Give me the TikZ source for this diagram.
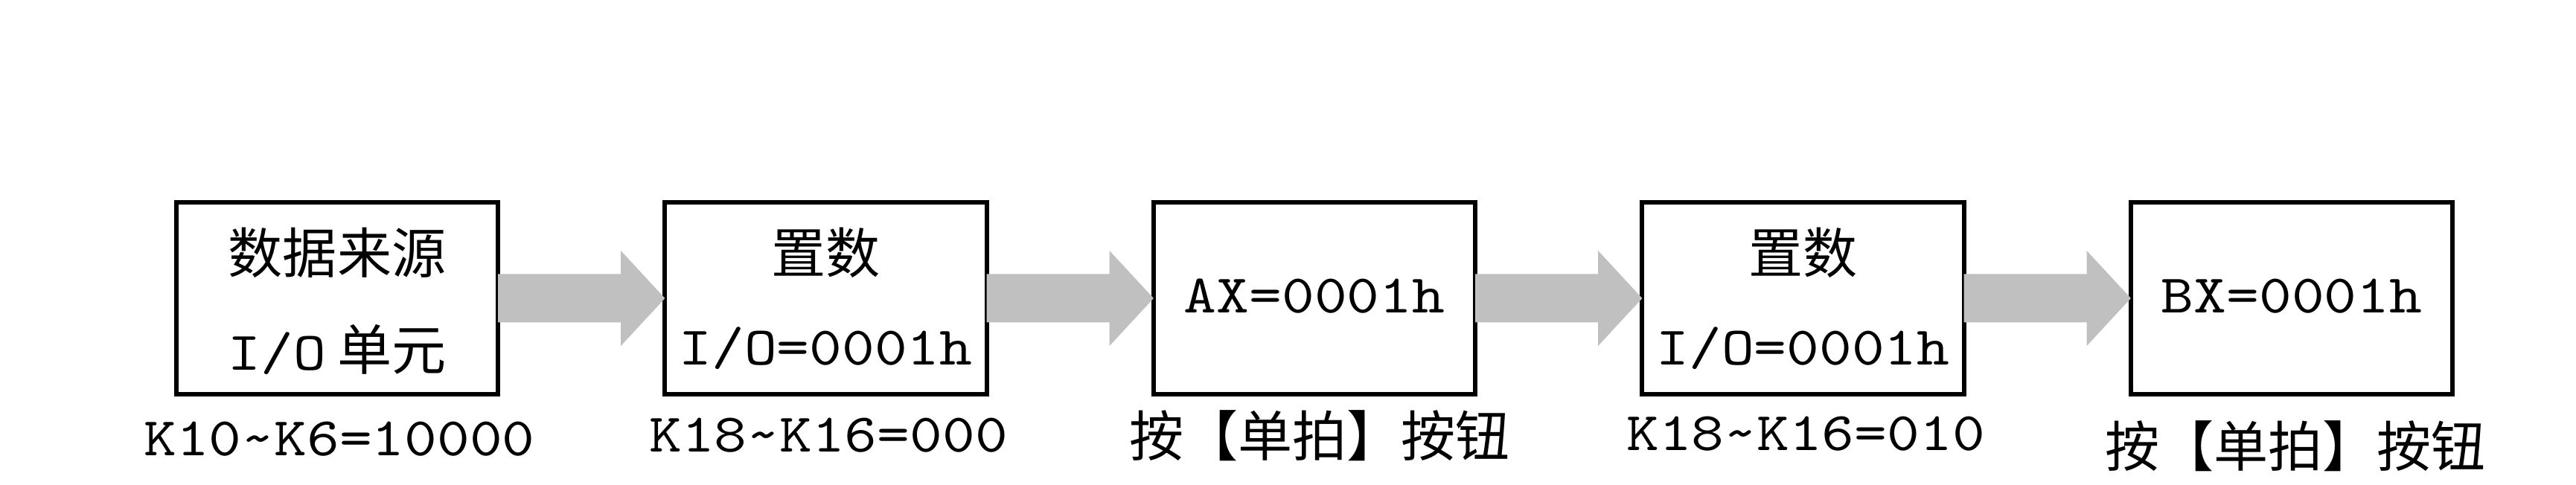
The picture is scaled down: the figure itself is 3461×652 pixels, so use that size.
\documentclass[tikz,border=0pt]{standalone}
\usepackage{fontspec}
\setmainfont{lmmono10-regular.otf}[FakeStretch=1.14]
\newfontfamily\cjk{Noto Sans CJK SC}
\usetikzlibrary{calc}
\definecolor{arrowgray}{RGB}{192,192,192}
\begin{document}
\begin{tikzpicture}[x=0.01cm,y=-0.01cm,
  box/.style={draw=black,line width=1.7pt,fill=white,minimum width=4.32cm,minimum height=2.58cm,inner sep=0pt,outer sep=0pt},
  txt/.style={anchor=base,inner sep=0pt,font=\fontsize{20.8}{25}\selectfont},
  flow/.style={fill=arrowgray,draw=none}]
\useasboundingbox (0,0) rectangle (3461,652);
% boxes
\node[box] (b1) at (453,401) {};
\node[box] (b2) at (1109.5,401) {};
\node[box] (b3) at (1766,401) {};
\node[box] (b4) at (2422.5,401) {};
\node[box] (b5) at (3079,401) {};
% arrows
\foreach \a/\b in {b1/b2,b2/b3,b3/b4,b4/b5}{
  \fill[flow] ($(\a.east)+(0,-32.5)$) -- ($(\a.east)+(165,-32.5)$) -- ($(\a.east)+(165,-64)$)
    -- (\b.west) -- ($(\a.east)+(165,64)$) -- ($(\a.east)+(165,32.5)$) -- ($(\a.east)+(0,32.5)$) -- cycle;
}
% box texts
\node[txt] (t1a) at (453,367) {\cjk 数据来源};
\node[txt] (t1b) at (453,497) {I/O\hspace{0.15cm}{\cjk 单元}};
\node[txt] (t2a) at (1109.5,367) {\cjk 置数};
\node[txt] (t2b) at (1109.5,490) {I/O=0001h};
\node[txt] (t3) at (1766,420) {AX=0001h};
\node[txt] (t4a) at (2422.5,367) {\cjk 置数};
\node[txt] (t4b) at (2422.5,490) {I/O=0001h};
\node[txt] (t5) at (3079,420) {BX=0001h};
% labels
\node[txt] (l1) at (456,612) {K10\textasciitilde K6=10000};
\node[txt] (l2) at (1113,607) {K18\textasciitilde K16=000};
\node[txt] (l3) at (1773,613) {\cjk 按【单拍】按钮};
\node[txt] (l4) at (2426,605) {K18\textasciitilde K16=010};
\node[txt] (l5) at (3084,627) {\cjk 按【单拍】按钮};
\end{tikzpicture}
\end{document}
